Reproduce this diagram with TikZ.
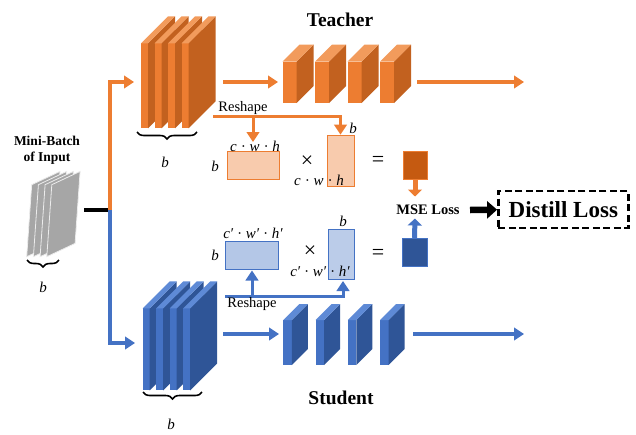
\documentclass[tikz,border=0pt]{standalone}
\usepackage{fontspec}
\setmainfont{Liberation Serif}
\usetikzlibrary{arrows.meta,decorations.pathreplacing}

\definecolor{orfront}{HTML}{ED7D31}
\definecolor{orside}{HTML}{C2611F}
\definecolor{ortop}{HTML}{F29B5C}
\definecolor{orlight}{HTML}{F8CBAD}
\definecolor{ordark}{HTML}{C55A11}
\definecolor{blfront}{HTML}{4472C4}
\definecolor{blside}{HTML}{2F5597}
\definecolor{bltop}{HTML}{5E8AD6}
\definecolor{bllight}{HTML}{B4C7E7}
\definecolor{slabgray}{HTML}{A6A6A6}

% box with front face, right side face and top face (y axis points down)
% #1 x, #2 y of front top-left, #3 width, #4 height, #5 depth, #6 front, #7 side, #8 top
\newcommand{\drawcube}[8]{%
  \fill[#6] (#1,#2) rectangle ++(#3,#4);
  \fill[#7] ({#1+#3},#2) -- ++(#5,-#5) -- ++(0,#4) -- ++(-#5,#5) -- cycle;
  \fill[#8] (#1,#2) -- ++(#5,-#5) -- ++(#3,0) -- ++(-#5,#5) -- cycle;
}
% dimension label of a matrix
\newcommand{\gp}{\hspace{4.5pt}}
\newcommand{\dims}{c\gp·\gp w\gp·\gp h}
\newcommand{\sdims}{c′\gp·\gp w′\gp·\gp h′}

\tikzset{
  oflow/.style={draw=orfront, line width=3.4pt, -{Triangle[length=10pt,width=12.5pt]}},
  bflow/.style={draw=blfront, line width=3.4pt, -{Triangle[length=10pt,width=12.5pt]}},
  othin/.style={draw=orfront, line width=3pt, -{Triangle[length=10pt,width=12.5pt]}},
  bthin/.style={draw=blfront, line width=3pt, -{Triangle[length=10pt,width=12.5pt]}},
  title/.style={font=\bfseries\fontsize{19.5}{22}\selectfont},
  lbl/.style={font=\itshape\fontsize{15}{16}\selectfont, inner sep=0pt},
  op/.style={font=\fontsize{22}{22}\selectfont, inner sep=0pt},
  omat/.style={draw=orfront, line width=1pt, fill=orlight, inner sep=0pt},
  bmat/.style={draw=blfront, line width=1pt, fill=bllight, inner sep=0pt},
  bracestyle/.style={decorate, decoration={brace, mirror, amplitude=7pt}, line width=1.6pt},
}

\begin{document}
\begin{tikzpicture}[x=1pt, y=-1pt]
\useasboundingbox (0,0) rectangle (636,434);

% ---------- input mini-batch ----------
\node[font=\bfseries\fontsize{13.5}{15.5}\selectfont, align=center] (mbt) at (47,150)
  {Mini-Batch\\of Input};
\foreach \i in {0,...,3}{
  \filldraw[fill=slabgray, draw=white!85!gray, line width=0.8pt]
    ({26.7+6.7*\i},256.7) -- ++(28.3,-13.3) -- ++(5,-72) -- ++(-28.3,13.3) -- cycle;
}
\coordinate (ib0) at (27,260);
\coordinate (ib1) at (59,260);
\draw[bracestyle] (ib0) -- (ib1);
\node[lbl] (ibl) at (43,287) {b};

% ---------- split into teacher / student ----------
\coordinate (inp) at (84,210);
\coordinate (split) at (110,210);
\coordinate (tin) at (134,82);
\coordinate (sin) at (135,343);
\draw[black, line width=3.4pt] (inp) -- (108.5,210);
\draw[oflow] (split) |- (tin);
\draw[bflow] (split) |- (sin);

% ---------- teacher ----------
\node[title] (teacher) at (340,20) {Teacher};
\foreach \i in {0,...,3}{
  \drawcube{141+13.5*\i}{43.3}{7}{85}{27}{orfront}{orside}{ortop}
}
\coordinate (tb0) at (137,132);
\coordinate (tb1) at (197,132);
\draw[bracestyle] (tb0) -- (tb1);
\node[lbl] (tbl) at (165,162) {b};

\foreach \i in {0,...,3}{
  \drawcube{282.5+32.5*\i}{61.5}{14}{41.5}{17}{orfront}{orside}{ortop}
}

\coordinate (ta1) at (223,82);
\coordinate (ta2) at (278,82);
\coordinate (ta3) at (417,82);
\coordinate (ta4) at (524,82);
\draw[oflow] (ta1) -- (ta2);
\draw[oflow] (ta3) -- (ta4);

% teacher reshape and matrix product
\node[omat, minimum width=52pt, minimum height=27.6pt] (tm1) at (253,165.5) {};
\node[omat, minimum width=27pt, minimum height=51.7pt] (tm2) at (340.5,161) {};
\node[draw=orfront, line width=0.8pt, fill=ordark, inner sep=0pt,
      minimum width=24pt, minimum height=27.6pt] (tres) at (415,165.5) {};

\node[font=\fontsize{14.5}{16}\selectfont, inner sep=0pt] (treshape) at (243,108) {Reshape};
\coordinate (tr0) at (213,116.5);
\coordinate (tbr) at (253,116.5);
\coordinate (tbe) at (253,142);
\draw[othin] (tr0) -| (tm2.north);
\draw[othin] (tbr) -- (tbe);

\node[lbl] (tmb1) at (215,166) {b};
\node[lbl] (tml1) at (255,146) {\dims};
\node[op] (tx) at (307,162) {×};
\node[lbl] (tmb2) at (353,128) {b};
\node[lbl] (tml2) at (319,180) {\dims};
\node[op] (teq) at (378,161) {=};

% ---------- student ----------
\node[title] (student) at (341,398) {Student};
\foreach \i in {0,...,3}{
  \drawcube{142.7+13.5*\i}{308.3}{7}{82}{27}{blfront}{blside}{bltop}
}
\coordinate (sb0) at (143,392);
\coordinate (sb1) at (202,392);
\draw[bracestyle] (sb0) -- (sb1);
\node[lbl] (sbl) at (171,424) {b};

\foreach \i in {0,...,3}{
  \drawcube{283.3+32.3*\i}{320}{8.5}{45}{16}{blfront}{blside}{bltop}
}

\coordinate (sa1) at (223,334);
\coordinate (sa2) at (279,334);
\coordinate (sa3) at (413,334);
\coordinate (sa4) at (524,334);
\draw[bflow] (sa1) -- (sa2);
\draw[bflow] (sa3) -- (sa4);

% student reshape and matrix product
\coordinate (sr0) at (225,296.5);
\coordinate (sbr) at (252,296.5);
\coordinate (sbe) at (252,270.5);
\coordinate (s2in) at (343,281);
\node[bmat, minimum width=53pt, minimum height=28.3pt] (sm1) at (251.7,255.8) {};
\draw[bthin] (sr0) -| (s2in);
\draw[bthin] (sbr) -- (sbe);
\node[bmat, fill opacity=0.9, minimum width=26.7pt, minimum height=50.7pt] (sm2) at (341.5,254.6) {};
\node[draw=blfront, line width=0.8pt, fill=blside, inner sep=0pt,
      minimum width=25pt, minimum height=28.6pt] (sres) at (414.5,252.5) {};

\node[font=\fontsize{14.5}{16}\selectfont, inner sep=0pt] (sreshape) at (252,304) {Reshape};

\node[lbl] (smb1) at (215,255) {b};
\node[lbl] (sml1) at (253,233) {\sdims};
\node[op] (sx) at (310,252) {×};
\node[lbl] (smb2) at (343,221) {b};
\node[lbl] (sml2) at (320,271) {\sdims};
\node[op] (seq) at (378,254) {=};

% ---------- loss ----------
\node[font=\bfseries\fontsize{14.5}{16}\selectfont, inner sep=0pt] (mse) at (428,210) {MSE Loss};
\coordinate (tmse) at (415,196.5);
\coordinate (smse) at (415,218.5);
\draw[draw=orfront, line width=5pt, -{Triangle[length=7pt,width=14pt]}] (tres.south) -- (tmse);
\draw[draw=blfront, line width=5pt, -{Triangle[length=7pt,width=14pt]}] (sres.north) -- (smse);

\node[draw=black, dash pattern=on 7pt off 3.5pt, line width=2.4pt,
      minimum width=130pt, minimum height=37pt, inner sep=0pt,
      font=\bfseries\fontsize{23}{25}\selectfont] (dl) at (563.3,209.7) {Distill Loss};
\coordinate (mseout) at (470,210);
\draw[black, line width=6.5pt, -{Triangle[length=10pt,width=17pt]}] (mseout) -- (dl.west);

\end{tikzpicture}
\end{document}
